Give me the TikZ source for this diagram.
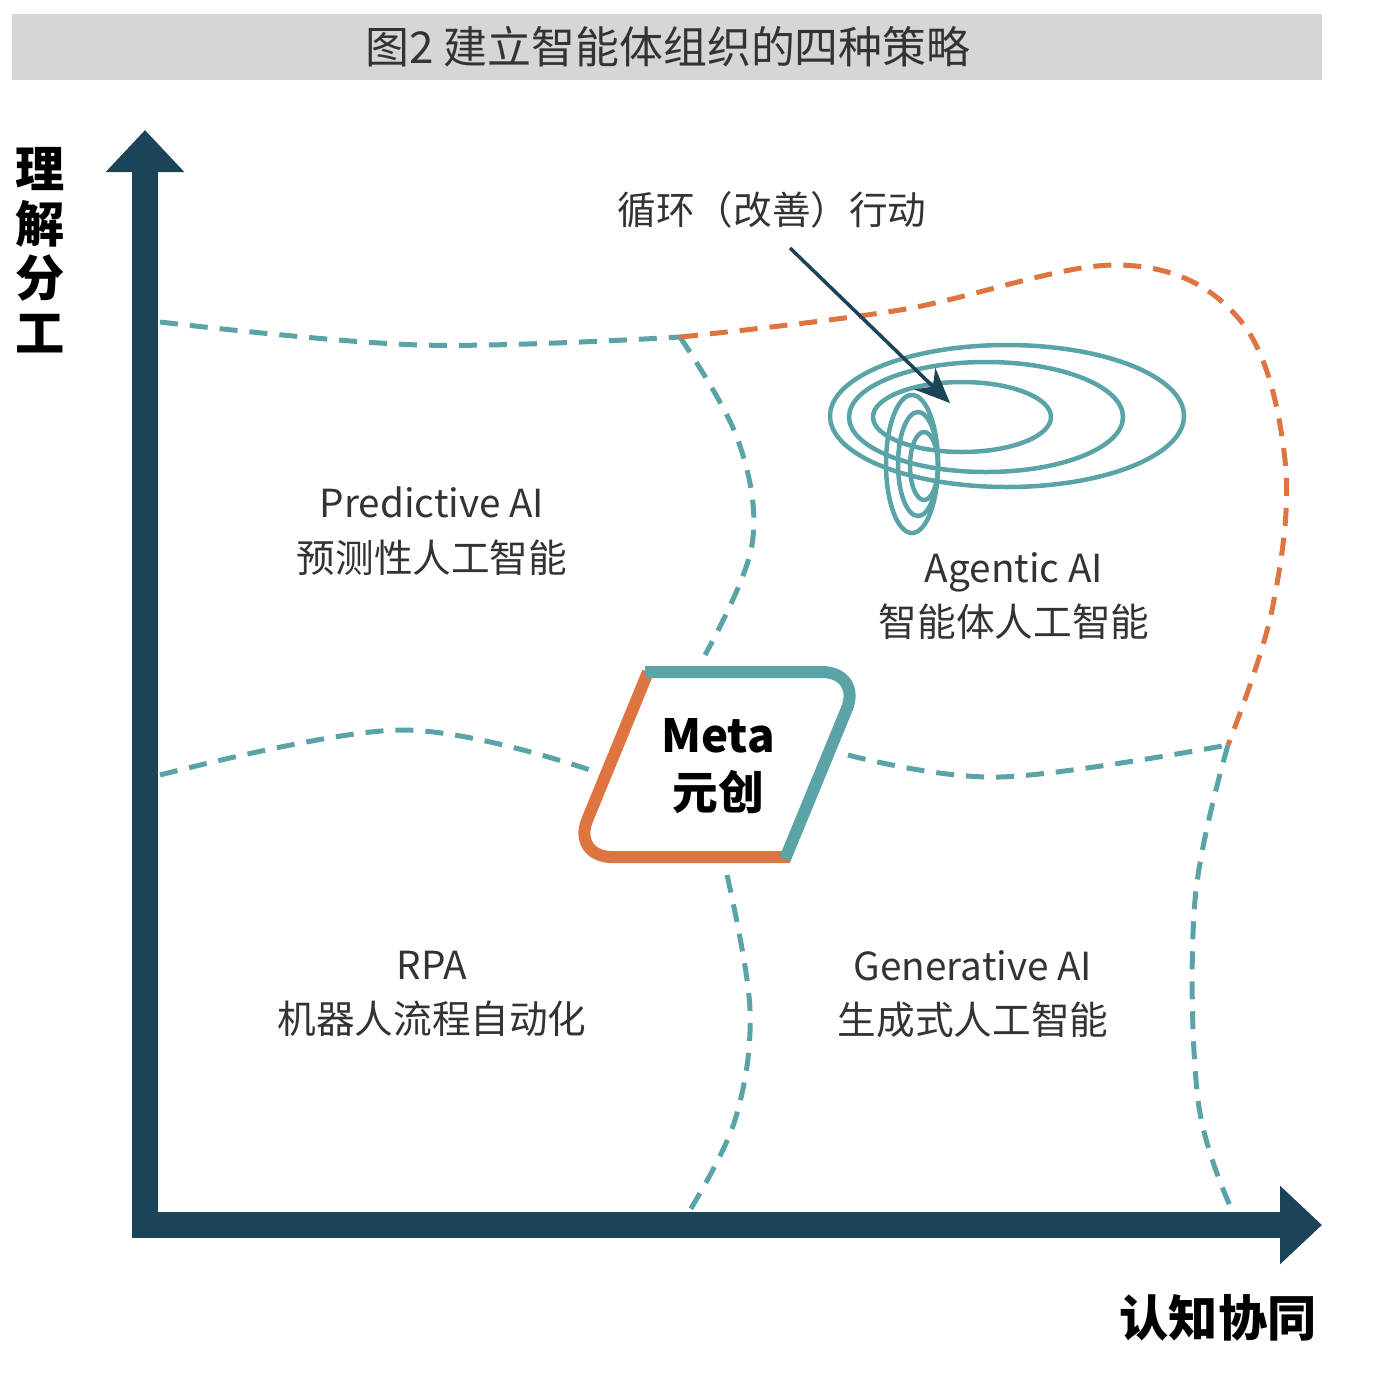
\documentclass[tikz,border=0pt]{standalone}
\usepackage{fontspec}
\setmainfont{Noto Sans CJK SC}
\usetikzlibrary{arrows.meta, positioning}
\definecolor{navy}{HTML}{1C4459}
\definecolor{teal}{HTML}{5AA3A6}
\definecolor{rust}{HTML}{DE7440}
\definecolor{bar}{HTML}{D6D6D6}
\begin{document}
\begin{tikzpicture}[x=0.1mm,y=-0.1mm,
  axis/.style={navy, line width=2.6mm, -{Triangle[width=7.6mm,length=4.2mm]}},
  border/.style={teal, line width=0.5mm, dash pattern=on 1.8mm off 1.2mm},
  edge/.style={border, rust},
  loop/.style={teal, line width=0.45mm},
  label/.style={align=center, font=\fontsize{11}{15.5}\selectfont, text=black!80, inner sep=0pt}]
    \useasboundingbox (0,0) rectangle (1390,1384);
    % title
    \fill[bar] (12,14) rectangle (1322,80);
    \node[font=\fontsize{12.5}{14}\selectfont, text=black!80] (title) at (668,47) {图2 建立智能体组织的四种策略};
    % axes
    \coordinate (origin) at (132,1225);
    \coordinate (ytip) at (145,130);
    \coordinate (xtip) at (1322,1225);
    \draw[axis] (145,1238) -- (ytip);
    \draw[axis] (origin) -- (xtip);
    \node[font=\fontsize{14}{15.5}\selectfont\bfseries, align=center, inner sep=0pt] (ylab) at (40,250) {理\\解\\分\\工};
    \node[font=\fontsize{14}{15}\selectfont\bfseries, inner sep=0pt] (xlab) at (1218,1318) {认知协同};
    % region borders
    \draw[border] plot[smooth, tension=0.6] coordinates {(160,322) (420,345) (680,337)};
    \draw[border] plot[smooth, tension=0.6] coordinates {(680,337) (738,440) (752,545) (705,655)};
    \draw[border] plot[smooth, tension=0.6] coordinates {(160,775) (400,730) (590,770)};
    \draw[border] plot[smooth, tension=0.6] coordinates {(848,755) (1000,777) (1228,745)};
    \draw[border] plot[smooth, tension=0.6] coordinates {(727,875) (750,1010) (735,1120) (690,1210)};
    \draw[border] plot[smooth, tension=0.6] coordinates {(1228,745) (1195,900) (1198,1100) (1232,1210)};
    \draw[edge] plot[smooth, tension=0.6] coordinates {(680,337) (900,310) (1120,265) (1240,320) (1285,460) (1272,610) (1228,745)};
    % meta box
    \draw[rust, line width=1.2mm, rounded corners=4mm] (790,857) -- (572,857) -- (648,672);
    \draw[teal, line width=1.2mm, rounded corners=4mm] (645,672) -- (862,672) -- (785,859);
    \node[font=\fontsize{13}{16}\selectfont\bfseries, align=center, inner sep=0pt] (meta) at (718,766) {Meta\\元创};
    % quadrant labels
    \node[label] (predictive) at (432,531) {Predictive AI\\预测性人工智能};
    \node[label] (agentic) at (1014,596) {Agentic AI\\智能体人工智能};
    \node[label] (rpa) at (432,994) {RPA\\机器人流程自动化};
    \node[label] (generative) at (973,994) {Generative AI\\生成式人工智能};
    % loops
    \draw[loop] (1007,416) ellipse [x radius=177, y radius=71];
    \draw[loop] (986,417) ellipse [x radius=137, y radius=55];
    \draw[loop] (962,417) ellipse [x radius=89, y radius=35];
    \draw[loop] (912,464) ellipse [x radius=26, y radius=69];
    \draw[loop] (918,464) ellipse [x radius=20, y radius=52];
    \draw[loop] (924,466) ellipse [x radius=14, y radius=34];
    \node[label] (cycle) at (772,210) {循环（改善）行动};
    \coordinate (cyclein) at (950,403);
    \draw[navy, line width=0.35mm, -{Stealth[width=3mm,length=3.5mm]}] (790,248) -- (cyclein);
\end{tikzpicture}
\end{document}
